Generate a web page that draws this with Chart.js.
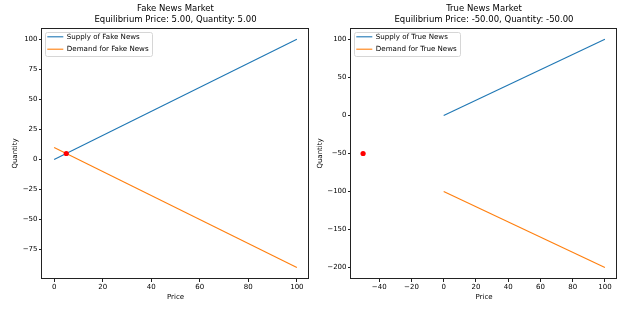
<!DOCTYPE html>
<html><head><meta charset="utf-8">
<script src="https://cdn.jsdelivr.net/npm/chart.js@4"></script>
<style>
html,body{margin:0;padding:0;background:#fff;}
#wrap{position:relative;width:627px;height:309px;}
.cv{position:absolute;top:0;}
</style></head>
<body><div id="wrap">
<div class="cv" style="left:0;width:313px;height:309px;"><canvas id="c1"></canvas></div>
<div class="cv" style="left:313px;width:314px;height:309px;"><canvas id="c2"></canvas></div>
</div>
<script>
// ---- data ----
const fakePrices = [0, 100];
const fakeSupply = [0, 100];
const fakeDemand = [10, -90];
const fakeEquilibrium = [5, 5];
const truePrices = [0, 100];
const trueSupply = [0, 100];
const trueDemand = [-100, -200];
const trueEquilibrium = [-50, -50];
const fakeXTicks = [0, 20, 40, 60, 80, 100];
const fakeYTicks = [-75, -50, -25, 0, 25, 50, 75, 100];
const trueXTicks = [-40, -20, 0, 20, 40, 60, 80, 100];
const trueYTicks = [-200, -150, -100, -50, 0, 50, 100];

const FONT = 'DejaVu Sans';
const BLUE = '#1f77b4', ORANGE = '#ff7f0e';
const fmt = v => (v < 0 ? '\u2212' + Math.abs(v) : String(v));

const framePlugin = {
  id: 'frame',
  afterUpdate(chart) {
    const lg = chart.legend;
    if (!lg) return;
    const dy = chart.chartArea.top - lg.top;
    const dx = 0.6;
    lg.top += dy; lg.bottom += dy;
    (lg.legendHitBoxes || []).forEach(h => { h.top += dy; h.left += dx; });
  },
  beforeDraw(chart) {
    const lg = chart.legend;
    if (!lg || !lg.legendHitBoxes || !lg.legendHitBoxes.length) return;
    const hb = lg.legendHitBoxes;
    let l = Infinity, r = -Infinity, t = Infinity, b = -Infinity;
    hb.forEach(h => { l = Math.min(l, h.left); r = Math.max(r, h.left + h.width); t = Math.min(t, h.top); b = Math.max(b, h.top + h.height); });
    const ctx = chart.ctx;
    const x0 = l - 2.6, y0 = t - 1.5, x1 = r + 3.3, y1 = b + 3.2;
    ctx.save();
    ctx.beginPath();
    ctx.roundRect(Math.round(x0) + 0.5, Math.round(y0) + 0.5, Math.round(x1 - x0), Math.round(y1 - y0), 2);
    ctx.fillStyle = 'rgba(255,255,255,0.8)';
    ctx.fill();
    ctx.strokeStyle = '#d6d6d6';
    ctx.lineWidth = 1;
    ctx.stroke();
    ctx.restore();
  },
  afterDraw(chart) {
    const a = chart.chartArea, ctx = chart.ctx;
    ctx.save();
    ctx.strokeStyle = '#222';
    ctx.lineWidth = 1;
    ctx.strokeRect(Math.round(a.left) - 0.5, Math.round(a.top) + 0.5, Math.round(a.right - a.left) + 0, Math.round(a.bottom - a.top) - 1);
    ctx.restore();
  }
};

function makeChart(id, cfg) {
  const pts = (xs, ys) => xs.map((x, i) => ({x, y: ys[i]}));
  return new Chart(document.getElementById(id), {
    type: 'scatter',
    data: {
      datasets: [
        {label: cfg.supplyLabel, data: pts(cfg.prices, cfg.supply), showLine: true, borderColor: BLUE, backgroundColor: BLUE, borderWidth: 1.1, pointRadius: 0, order: 0},
        {label: cfg.demandLabel, data: pts(cfg.prices, cfg.demand), showLine: true, borderColor: ORANGE, backgroundColor: ORANGE, borderWidth: 1.1, pointRadius: 0, order: 0},
        {label: 'Equilibrium', data: [{x: cfg.eq[0], y: cfg.eq[1]}], pointRadius: 2.6, pointBackgroundColor: 'red', pointBorderColor: 'red', borderWidth: 0, order: -1}
      ]
    },
    options: {
      responsive: true, maintainAspectRatio: false, animation: false,
      devicePixelRatio: 1,
      layout: {padding: {left: 0, right: cfg.padRight, top: 0, bottom: 0}},
      plugins: {
        tooltip: {enabled: false},
        title: {display: true, text: cfg.title, color: '#000', fullSize: false,
          font: {family: FONT, size: 8.5, weight: 'normal', lineHeight: 1.35},
          padding: {top: 2.75, bottom: 2.25}},
        legend: {display: true, position: 'chartArea', align: 'start',
          labels: {usePointStyle: true, pointStyle: 'line', pointStyleWidth: 16, boxHeight: 7,
            padding: 5.3, color: '#000', font: {family: FONT, size: 7.1},
            filter: item => item.datasetIndex < 2,
            sort: (a, b) => a.datasetIndex - b.datasetIndex}}
      },
      scales: {
        x: {type: 'linear', min: cfg.xmin, max: cfg.xmax,
          afterBuildTicks: s => { s.ticks = cfg.xTicks.map(v => ({value: v})); },
          afterFit: s => { s.height = 30; },
          grid: {display: true, drawOnChartArea: false, drawTicks: true, tickLength: 3, color: '#222', tickWidth: 1},
          border: {display: false},
          ticks: {color: '#000', padding: 1, maxRotation: 0, autoSkip: false, font: {family: FONT, size: 7}, callback: v => fmt(v)},
          title: {display: true, text: 'Price', color: '#000', font: {family: FONT, size: 7}, padding: {top: 0, bottom: 8.1}}
        },
        y: {type: 'linear', min: cfg.ymin, max: cfg.ymax,
          afterBuildTicks: s => { s.ticks = cfg.yTicks.map(v => ({value: v})); },
          afterFit: s => { s.width = cfg.yWidth; },
          grid: {display: true, drawOnChartArea: false, drawTicks: true, tickLength: 3, color: '#222', tickWidth: 1},
          border: {display: false},
          ticks: {color: '#000', padding: 1.5, autoSkip: false, font: {family: FONT, size: 7}, callback: v => fmt(v)},
          title: {display: true, text: 'Quantity', color: '#000', font: {family: FONT, size: 7}, padding: {top: cfg.yTitlePad, bottom: 0}}
        }
      }
    },
    plugins: [framePlugin]
  });
}

makeChart('c1', {
  title: ['Fake News Market', 'Equilibrium Price: 5.00, Quantity: 5.00'],
  supplyLabel: 'Supply of Fake News', demandLabel: 'Demand for Fake News',
  prices: fakePrices, supply: fakeSupply, demand: fakeDemand, eq: fakeEquilibrium,
  xmin: -5, xmax: 105, ymin: -99.5, ymax: 109.5,
  xTicks: fakeXTicks, yTicks: fakeYTicks,
  yWidth: 42, padRight: 4, yTitlePad: 10.8
});
makeChart('c2', {
  title: ['True News Market', 'Equilibrium Price: -50.00, Quantity: -50.00'],
  supplyLabel: 'Supply of True News', demandLabel: 'Demand for True News',
  prices: truePrices, supply: trueSupply, demand: trueDemand, eq: trueEquilibrium,
  xmin: -57.5, xmax: 107.5, ymin: -215, ymax: 115,
  xTicks: trueXTicks, yTicks: trueYTicks,
  yWidth: 38, padRight: 10, yTitlePad: 3.3
});
</script>
</body></html>
